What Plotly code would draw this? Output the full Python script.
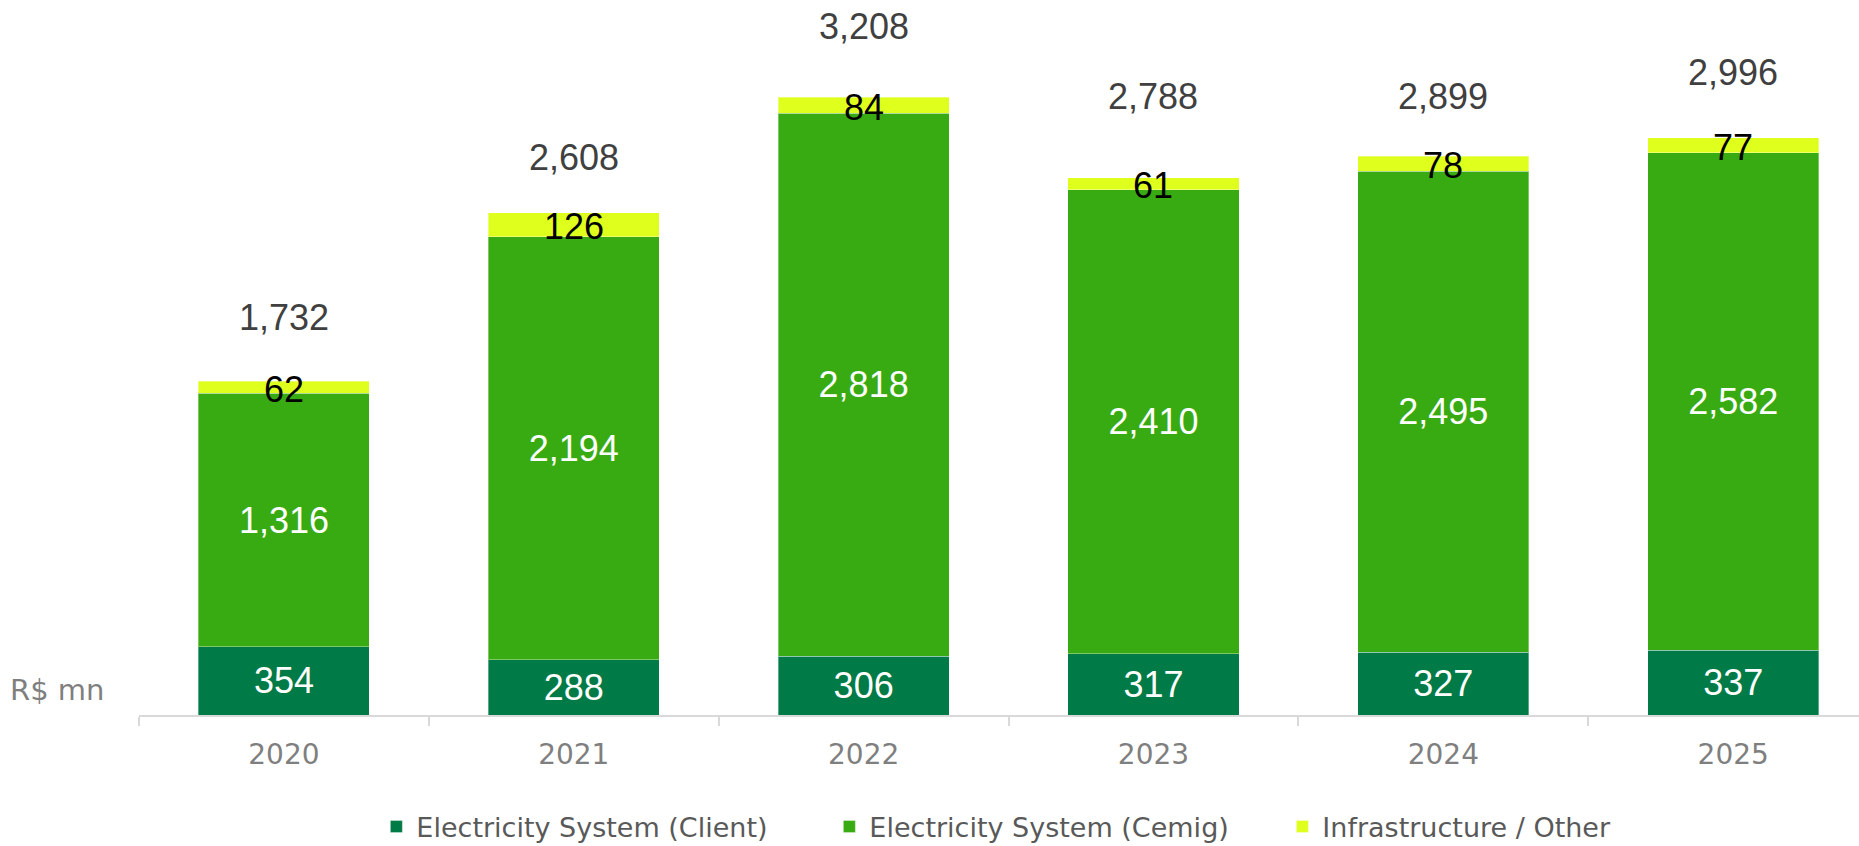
import plotly.graph_objects as go

years = ["2020", "2021", "2022", "2023", "2024", "2025"]
client = [354, 288, 306, 317, 327, 337]
cemig = [1316, 2194, 2818, 2410, 2495, 2582]
other = [62, 126, 84, 61, 78, 77]
totals = [1732, 2608, 3208, 2788, 2899, 2996]

series_names = ["Electricity System (Client)", "Electricity System (Cemig)", "Infrastructure / Other"]
colors = ["#007A46", "#39AB12", "#DFFF1C"]

# style: vertical pixel offsets for total labels above bar tops
total_shift = [64, 55, 71, 81, 60, 65]

FONT = "Liberation Sans, Arial, sans-serif"
GFONT = "DejaVu Sans, sans-serif"
LBL = 36

fig = go.Figure()
fig.add_trace(go.Bar(
    x=years, y=client, name=series_names[0], marker_color=colors[0],
    marker_line=dict(color="rgba(255,255,255,0.35)", width=1),
    text=[f"{v:,}" for v in client], textposition="inside", insidetextanchor="middle",
    textfont=dict(color="white", size=LBL, family=FONT), constraintext="none",
    textangle=0,
))
fig.add_trace(go.Bar(
    x=years, y=cemig, name=series_names[1], marker_color=colors[1],
    marker_line=dict(color="rgba(255,255,255,0.35)", width=1),
    text=[f"{v:,}" for v in cemig], textposition="inside", insidetextanchor="middle",
    textfont=dict(color="white", size=LBL, family=FONT), constraintext="none",
    textangle=0,
))
fig.add_trace(go.Bar(
    x=years, y=other, name=series_names[2], marker_color=colors[2],
    marker_line=dict(color="rgba(255,255,255,0.35)", width=1),
    textposition="none",
))

# labels for the thin top segment (overflowing the segment) and totals
# (category axis: annotation x given as category index)
for i, yr in enumerate(years):
    fig.add_annotation(x=i, y=client[i] + cemig[i] + other[i] / 2, text=f"{other[i]:,}",
                       showarrow=False, font=dict(color="black", size=LBL, family=FONT),
                       xref="x", yref="y", yanchor="middle", yshift=-2)
    fig.add_annotation(x=i, y=totals[i], text=f"{totals[i]:,}", showarrow=False,
                       font=dict(color="#404040", size=LBL, family=FONT),
                       xref="x", yref="y", yanchor="middle", yshift=total_shift[i])

fig.add_annotation(text="R$ mn", xref="paper", yref="paper", x=(106 - 139) / 1720, y=(715 - 690) / 715,
                   xanchor="right", yanchor="middle", showarrow=False,
                   font=dict(color="#7F7F7F", size=29, family=GFONT))

fig.update_layout(
    width=1859, height=846,
    barmode="stack", bargap=0.41,
    paper_bgcolor="white", plot_bgcolor="white",
    margin=dict(l=139, r=0, t=0, b=131, autoexpand=False),
    showlegend=True,
    legend=dict(orientation="h", x=0.138, xanchor="left", y=-(827 - 715) / 715, yanchor="middle",
                font=dict(color="#595959", size=27, family=GFONT),
                traceorder="normal", itemclick=False, entrywidth=408, entrywidthmode="pixels"),
    xaxis=dict(type="category", range=[-0.5, 5.434], showline=True, linecolor="#D9D9D9", linewidth=2,
               ticks="outside", tickson="boundaries", ticklen=9, tickcolor="#D9D9D9", tickwidth=2,
               tickfont=dict(color="#7F7F7F", size=28, family=GFONT), ticklabelstandoff=13,
               showgrid=False, fixedrange=True),
    yaxis=dict(range=[0, 3712], visible=False, showgrid=False, fixedrange=True),
)

fig.write_html("out.html", config={"displayModeBar": False},
               post_script="document.body.style.margin='0';")
